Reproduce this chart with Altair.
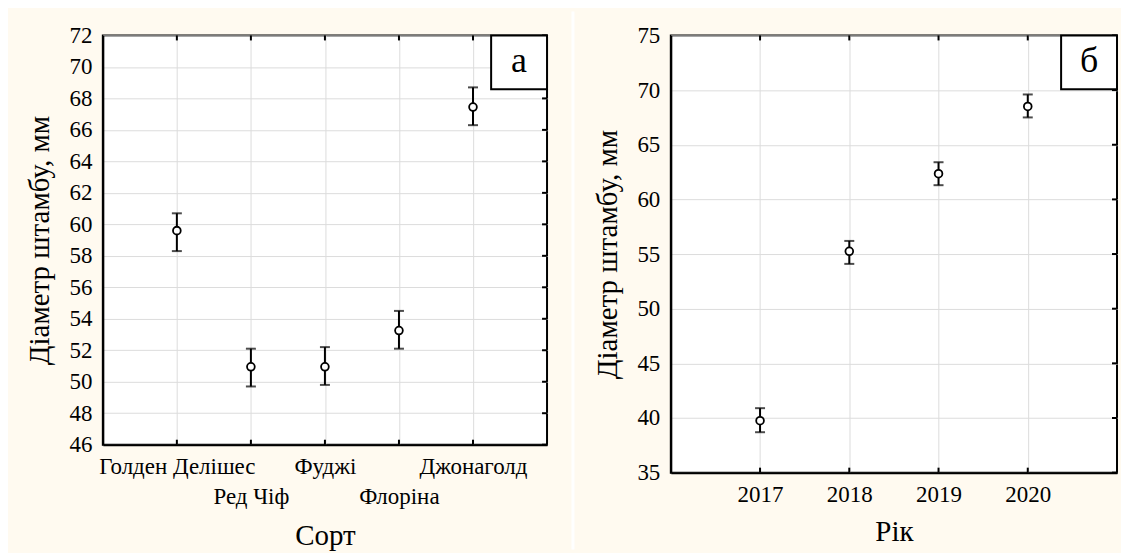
import altair as alt
import pandas as pd

# ---- data ----
cultivars = ["Голден Делішес", "Ред Чіф", "Фуджі", "Флоріна", "Джонаголд"]
cult_pos = [1, 2, 3, 4, 5]
cult_mean = [59.6, 50.95, 50.95, 53.25, 67.45]
cult_low = [58.3, 49.7, 49.8, 52.1, 66.3]
cult_high = [60.7, 52.1, 52.2, 54.5, 68.7]

years = [2017, 2018, 2019, 2020]
year_mean = [39.75, 55.25, 62.35, 68.5]
year_low = [38.7, 54.1, 61.3, 67.5]
year_high = [40.9, 56.2, 63.4, 69.6]

y_ticks_a = list(range(46, 73, 2))
y_ticks_b = list(range(35, 76, 5))
panel_letters = ["а", "б"]
x_title_a = "Сорт"
x_title_b = "Рік"
y_title = "Діаметр штамбу, мм"

FONT = "Liberation Serif"
CREAM = "#FFFAF0"
GRID = "#dcdcdc"
TICK_FS = 23
TITLE_FS = 29

WA, HA = 445, 410
WB, HB = 447, 438

AXIS_STYLE = dict(
    grid=True, gridColor=GRID, gridWidth=1, ticks=False,
    domain=True, domainColor="black", domainWidth=2,
    labelFont=FONT, labelFontSize=TICK_FS, labelColor="black",
    labelPadding=11, labelOverlap=False, labelFlush=False, labelBound=False,
    titleFont=FONT, titleFontSize=TITLE_FS, titleFontWeight="normal",
    titleColor="black",
)


def panel(df, xfield, x_dom, x_vals, x_axis_extra, y_dom, y_vals, W, H, letter,
          x_title, y_title_pad, x_title_pad, separator=False):
    xs = alt.Scale(domain=x_dom, nice=False, zero=False)
    ys = alt.Scale(domain=y_dom, nice=False, zero=False)
    x_axis = alt.Axis(values=x_vals, title=x_title, titlePadding=x_title_pad,
                      **x_axis_extra, **AXIS_STYLE)
    y_axis = alt.Axis(values=y_vals, title=y_title, titlePadding=y_title_pad,
                      **AXIS_STYLE)

    def X():
        return alt.X(f"{xfield}:Q", scale=xs, axis=x_axis)

    def Y(f):
        return alt.Y(f"{f}:Q", scale=ys, axis=y_axis)

    base = alt.Chart(df)
    bars = base.mark_rule(color="black", strokeWidth=2).encode(
        x=X(), y=Y("low"), y2="high:Q")
    cap_lo = base.mark_tick(orient="horizontal", size=10, thickness=2, color="black").encode(
        x=X(), y=Y("low"))
    cap_hi = base.mark_tick(orient="horizontal", size=10, thickness=2, color="black").encode(
        x=X(), y=Y("high"))
    pts = base.mark_point(shape="circle", filled=True, fill="white", stroke="black",
                          strokeWidth=1.8, size=60, opacity=1).encode(
        x=X(), y=Y("mean"))

    xt = pd.DataFrame({xfield: x_vals})
    yt = pd.DataFrame({"low": y_vals})
    top_ticks = alt.Chart(xt).mark_rule(color="black", strokeWidth=2).encode(
        x=X(), y=alt.value(0), y2=alt.value(5))
    bot_ticks = alt.Chart(xt).mark_rule(color="black", strokeWidth=2).encode(
        x=X(), y=alt.value(H - 5), y2=alt.value(H))
    right_ticks = alt.Chart(yt).mark_rule(color="black", strokeWidth=2).encode(
        y=Y("low"), x=alt.value(W - 5), x2=alt.value(W))

    lab = pd.DataFrame({"letter": [letter]})
    box = alt.Chart(lab).mark_rect(fill="white", stroke="black", strokeWidth=2).encode(
        x=alt.value(W - 56), x2=alt.value(W), y=alt.value(0), y2=alt.value(54))
    txt = alt.Chart(lab).mark_text(font=FONT, fontSize=36, color="black",
                                   align="center", baseline="middle").encode(
        x=alt.value(W - 28), y=alt.value(26), text="letter:N")

    layers = [bars, cap_lo, cap_hi, pts, top_ticks, bot_ticks, right_ticks, box, txt]
    if separator:
        sep = alt.Chart(lab).mark_rule(color="white", strokeWidth=3).encode(
            x=alt.value(W + 26), y=alt.value(-24), y2=alt.value(H + 105))
        layers.append(sep)
    return alt.layer(*layers).properties(width=W, height=H)


df_a = pd.DataFrame({"pos": cult_pos, "mean": cult_mean, "low": cult_low, "high": cult_high})
df_b = pd.DataFrame({"year": years, "mean": year_mean, "low": year_low, "high": year_high})

arr = "[" + ",".join("'" + c + "'" for c in cultivars) + "]"
label_expr_a = (f"datum.value % 2 == 1 ? [{arr}[datum.value - 1], ''] "
                f": ['', {arr}[datum.value - 1]]")

left = panel(df_a, "pos", [0, 6], cult_pos,
             {"labelExpr": label_expr_a, "labelLineHeight": 30},
             [46, 72], y_ticks_a, WA, HA, panel_letters[0], x_title_a,
             y_title_pad=14, x_title_pad=13, separator=True)
right = panel(df_b, "year", [2016, 2021], years, {"format": "d"},
              [35, 75], y_ticks_b, WB, HB, panel_letters[1], x_title_b,
              y_title_pad=14, x_title_pad=11)

chart = alt.hconcat(left, right, spacing=17).properties(
    background=CREAM,
    padding={"left": 17, "top": 0, "right": 2, "bottom": 0},
).configure(
    font=FONT
).configure_view(
    stroke="black", strokeWidth=2, fill="white"
)

chart.save("out.html", embed_options={"renderer": "svg", "actions": False})
